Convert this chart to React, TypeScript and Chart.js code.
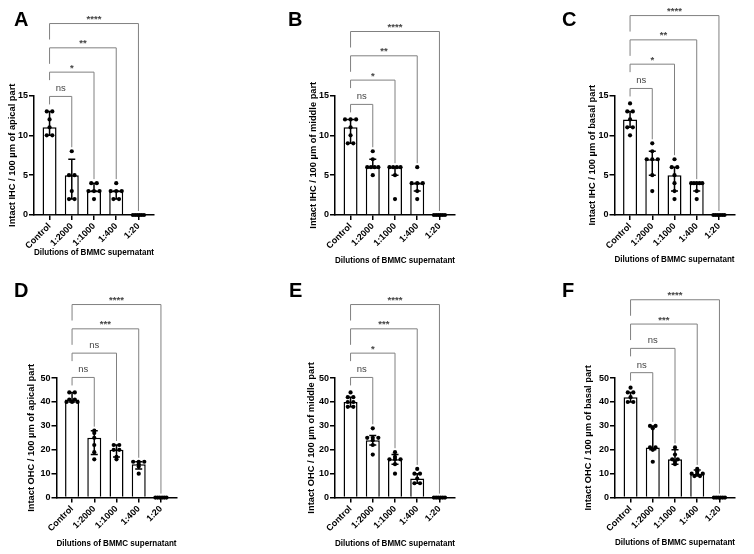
import React, { useEffect, useRef } from 'react';
import { Chart, registerables } from 'chart.js';

Chart.register(...registerables);
Chart.defaults.font.family = "'Liberation Sans', Arial, sans-serif";

// ---------------- data ----------------
const categories = ['Control', '1:2000', '1:1000', '1:400', '1:20'];
const xTitle = 'Dilutions of BMMC supernatant';

// A: intact IHC, apical
const aTitle = 'Intact IHC / 100 µm of apical part';
const aPoints = [[13, 13, 12, 11, 10, 10], [8, 5, 5, 3, 2, 2], [4, 4, 3, 3, 3, 2], [4, 3, 3, 3, 2, 2], [0, 0, 0, 0, 0, 0]];
const aBars = [11, 5, 3, 3, 0];
const aLow = [10, 2, 3, 2, 0];
const aHigh = [13, 7, 4, 3, 0];
const aSig = ['ns', '*', '**', '****'];

// B: intact IHC, middle
const bTitle = 'Intact IHC / 100 µm of middle part';
const bPoints = [[12, 12, 12, 11, 10, 9, 9], [8, 7, 6, 6, 6, 6, 5], [6, 6, 6, 6, 5, 2], [6, 4, 4, 4, 3, 2], [0, 0, 0, 0, 0, 0]];
const bBars = [11, 6, 6, 4, 0];
const bLow = [9, 6, 5, 3, 0];
const bHigh = [12, 7, 6, 4, 0];
const bSig = ['ns', '*', '**', '****'];

// C: intact IHC, basal
const cTitle = 'Intact IHC / 100 µm of basal part';
const cPoints = [[14, 13, 13, 12, 11, 11, 10], [9, 8, 7, 7, 7, 5, 3], [7, 6, 6, 5, 4, 3, 2], [4, 4, 4, 4, 4, 3, 2], [0, 0, 0, 0, 0, 0]];
const cBars = [12, 7, 5, 4, 0];
const cLow = [11, 5, 3, 3, 0];
const cHigh = [13, 8, 6, 4, 0];
const cSig = ['ns', '*', '**', '****'];

// D: intact OHC, apical
const dTitle = 'Intact OHC / 100 µm of apical part';
const dPoints = [[44, 44, 41, 41, 40, 40, 40], [28, 27, 25, 22, 19, 16], [22, 22, 20, 20, 17, 16], [15, 15, 15, 14, 13, 10], [0, 0, 0, 0, 0, 0]];
const dBars = [41, 25, 20, 14, 0];
const dLow = [40, 18, 17, 12, 0];
const dHigh = [44, 28, 22, 15, 0];
const dSig = ['ns', 'ns', '***', '****'];

// E: intact OHC, middle
const eTitle = 'Intact OHC / 100 µm of middle part';
const ePoints = [[44, 42, 42, 40, 40, 38, 38], [29, 25, 25, 25, 24, 22, 18], [19, 17, 16, 16, 16, 14, 10], [12, 10, 10, 8, 6, 6], [0, 0, 0, 0, 0, 0]];
const eBars = [40, 24, 16, 8, 0];
const eLow = [38, 22, 14, 6, 0];
const eHigh = [42, 26, 18, 10, 0];
const eSig = ['ns', '*', '***', '****'];

// F: intact OHC, basal
const fTitle = 'Intact OHC / 100 µm of basal part';
const fPoints = [[46, 44, 44, 42, 40, 40], [30, 30, 29, 21, 21, 20, 15], [21, 18, 16, 16, 15, 14], [12, 11, 10, 10, 10, 9, 9], [0, 0, 0, 0, 0, 0]];
const fBars = [42, 21, 16, 10, 0];
const fLow = [40, 20, 14, 9, 0];
const fHigh = [44, 30, 20, 11.5, 0];
const fSig = ['ns', 'ns', '***', '****'];

const ihcMax = 15, ihcStep = 5;
const ohcMax = 50, ohcStep = 10;

// ---------------- layout (positions only) ----------------
const panels = [
  { letter: 'A', title: aTitle, points: aPoints, bars: aBars, low: aLow, high: aHigh, sig: aSig, yMax: ihcMax, yStep: ihcStep,
    left: 0, top: 0, w: 251, axisX: 34, axisY: 215, yTitleX: 12, xTitleY: 252, lx: 14, ly: 26 },
  { letter: 'B', title: bTitle, points: bPoints, bars: bBars, low: bLow, high: bHigh, sig: bSig, yMax: ihcMax, yStep: ihcStep,
    left: 251, top: 0, w: 251, axisX: 335, axisY: 215, yTitleX: 313, xTitleY: 260, lx: 288, ly: 26 },
  { letter: 'C', title: cTitle, points: cPoints, bars: cBars, low: cLow, high: cHigh, sig: cSig, yMax: ihcMax, yStep: ihcStep,
    left: 502, top: 0, w: 252, axisX: 614.5, axisY: 215, yTitleX: 592, xTitleY: 259, lx: 562, ly: 26 },
  { letter: 'D', title: dTitle, points: dPoints, bars: dBars, low: dLow, high: dHigh, sig: dSig, yMax: ohcMax, yStep: ohcStep,
    left: 0, top: 277, w: 251, axisX: 56.5, axisY: 497.6, yTitleX: 31.7, xTitleY: 543, lx: 14, ly: 297 },
  { letter: 'E', title: eTitle, points: ePoints, bars: eBars, low: eLow, high: eHigh, sig: eSig, yMax: ohcMax, yStep: ohcStep,
    left: 251, top: 277, w: 251, axisX: 335, axisY: 497.6, yTitleX: 311.7, xTitleY: 543, lx: 289, ly: 297 },
  { letter: 'F', title: fTitle, points: fPoints, bars: fBars, low: fLow, high: fHigh, sig: fSig, yMax: ohcMax, yStep: ohcStep,
    left: 502, top: 277, w: 252, axisX: 615, axisY: 497.6, yTitleX: 588, xTitleY: 542, lx: 562, ly: 297 },
];

const H = 277;
const PLOT_W = 120;
const PLOT_H = 119.5;
const YT_FONT = 9.3;
const XT_FONT = 9.8;

function scatterFor(points: number[][]) {
  const out: { x: number; y: number }[] = [];
  points.forEach((grp, i) => {
    const counts: Record<string, number> = {};
    grp.forEach((v) => { counts[v] = (counts[v] || 0) + 1; });
    const seen: Record<string, number> = {};
    grp.forEach((v) => {
      const c = counts[v];
      const k = seen[v] || 0;
      seen[v] = k + 1;
      const step = c > 1 ? Math.min(0.25, 0.5 / (c - 1)) : 0;
      out.push({ x: i + (k - (c - 1) / 2) * step, y: v });
    });
  });
  return out;
}

function zeroPad(s: any) {
  s.paddingLeft = 0;
  s.paddingRight = 0;
  s.paddingTop = 0;
  s.paddingBottom = 0;
}

function Panel({ p, idx }: { p: any; idx: number }) {
  const ref = useRef<HTMLCanvasElement | null>(null);
  useEffect(() => {
    const canvas = ref.current!;
    const yW = p.axisX - p.yTitleX + (YT_FONT * 1.2) / 2;
    const xH = p.xTitleY + (XT_FONT * 1.2) / 2 - p.axisY;
    const padLeft = p.axisX - yW - p.left;
    const padRight = p.left + p.w - (p.axisX + PLOT_W);
    const padTop = p.axisY - PLOT_H - p.top;
    const padBottom = p.top + H - (p.axisY + xH);

    const overlay = {
      id: 'overlay' + idx,
      afterDatasetsDraw(chart: any) {
        const ctx = chart.ctx;
        const xs = chart.scales.x, ys = chart.scales.y;
        ctx.save();
        ctx.strokeStyle = '#000';
        ctx.lineWidth = 1.5;
        p.low.forEach((lo: number, i: number) => {
          const x = xs.getPixelForValue(i);
          const y1 = ys.getPixelForValue(lo);
          const y2 = ys.getPixelForValue(p.high[i]);
          ctx.beginPath();
          ctx.moveTo(x, y1); ctx.lineTo(x, y2);
          ctx.moveTo(x - 3.5, y1); ctx.lineTo(x + 3.5, y1);
          ctx.moveTo(x - 3.5, y2); ctx.lineTo(x + 3.5, y2);
          ctx.stroke();
        });
        ctx.restore();
      },
      afterDraw(chart: any) {
        const ctx = chart.ctx;
        const xs = chart.scales.x, ys = chart.scales.y;
        ctx.save();
        const base = ys.getPixelForValue(Math.max(...p.points[0])) - 15;
        p.sig.forEach((lab: string, k: number) => {
          const j = k + 1;
          const yb = base - k * 24.3;
          const x0 = xs.getPixelForValue(0);
          const x1 = xs.getPixelForValue(j);
          const yR = ys.getPixelForValue(Math.max(...p.points[j])) - 4;
          const legL = k < 2 ? 8 : 16;
          ctx.strokeStyle = '#808080';
          ctx.lineWidth = 1;
          ctx.beginPath();
          ctx.moveTo(x0, yb + legL);
          ctx.lineTo(x0, yb);
          ctx.lineTo(x1, yb);
          ctx.lineTo(x1, yR);
          ctx.stroke();
          ctx.fillStyle = '#444';
          ctx.textAlign = 'center';
          ctx.textBaseline = 'alphabetic';
          if (lab === 'ns') {
            ctx.font = "9.5px 'Liberation Sans', Arial, sans-serif";
            ctx.fillText(lab, (x0 + x1) / 2, yb - 5);
          } else {
            ctx.font = "bold 9.5px 'Liberation Sans', Arial, sans-serif";
            ctx.fillText(lab, (x0 + x1) / 2, yb - 1.5);
          }
        });
        ctx.fillStyle = '#000';
        ctx.textAlign = 'left';
        ctx.textBaseline = 'alphabetic';
        ctx.font = "bold 20px 'Liberation Sans', Arial, sans-serif";
        ctx.fillText(p.letter, p.lx - p.left, p.ly - p.top);
        ctx.restore();
      },
    };

    const chart = new Chart(canvas, {
      type: 'bar',
      data: {
        datasets: [
          {
            type: 'scatter',
            data: scatterFor(p.points),
            pointRadius: 2.1,
            pointHoverRadius: 2.1,
            backgroundColor: '#000',
            borderColor: '#000',
            borderWidth: 0,
            order: 1,
            clip: false,
          } as any,
          {
            type: 'bar',
            data: p.bars.map((v: number, i: number) => ({ x: i, y: v })),
            backgroundColor: '#fff',
            borderColor: '#000',
            borderWidth: 1.5,
            barPercentage: 0.63,
            categoryPercentage: 1,
            order: 2,
            clip: false,
          } as any,
        ],
      },
      options: {
        responsive: false,
        animation: false,
        events: [],
        layout: { padding: { left: padLeft, right: padRight, top: padTop, bottom: padBottom } },
        plugins: { legend: { display: false }, tooltip: { enabled: false } },
        scales: {
          x: {
            type: 'linear',
            offset: false,
            min: -0.7,
            max: 4.7,
            afterBuildTicks: (s: any) => { s.ticks = categories.map((_, i) => ({ value: i })); },
            afterFit: (s: any) => { s.height = xH; zeroPad(s); },
            ticks: {
              callback: (v: any) => categories[v] ?? '',
              autoSkip: false,
              maxRotation: 45,
              minRotation: 45,
              padding: 1,
              color: '#000',
              font: { size: 9, weight: 'bold' },
            },
            grid: { offset: false, drawOnChartArea: false, drawTicks: true, tickLength: 5, color: '#000', lineWidth: 1.5 },
            border: { color: '#000', width: 1.5 },
            title: { display: true, text: xTitle, color: '#000', padding: 0, font: { size: XT_FONT, weight: 'bold' } },
          },
          y: {
            min: 0,
            max: p.yMax,
            afterFit: (s: any) => { s.width = yW; zeroPad(s); },
            ticks: { stepSize: p.yStep, padding: 1, color: '#000', font: { size: 9, weight: 'bold' } },
            grid: { drawOnChartArea: false, drawTicks: true, tickLength: 5, color: '#000', lineWidth: 1.5 },
            border: { color: '#000', width: 1.5 },
            title: { display: true, text: p.title, color: '#000', padding: 0, font: { size: YT_FONT, weight: 'bold' } },
          },
        },
      } as any,
      plugins: [overlay],
    });
    return () => chart.destroy();
  }, []);
  return (
    <canvas
      ref={ref}
      width={p.w}
      height={H}
      style={{ position: 'absolute', left: p.left, top: p.top, width: p.w, height: H }}
    />
  );
}

export default function App() {
  return (
    <div style={{ position: 'absolute', left: 0, top: 0, width: 754, height: 554, background: '#fff', overflow: 'hidden' }}>
      {panels.map((p, i) => (
        <Panel key={p.letter} p={p} idx={i} />
      ))}
    </div>
  );
}
